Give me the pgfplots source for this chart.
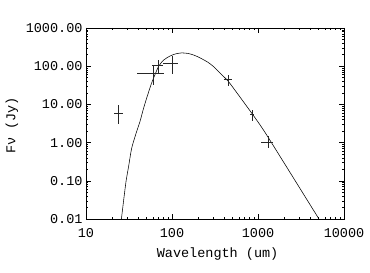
\documentclass[border=0pt]{standalone}
\usepackage{fontspec}
\setmainfont{Liberation Mono}
\usepackage{pgfplots}
\pgfplotsset{compat=1.18}
\usepackage{pgfplotstable}

\pgfplotstableread{
x y xm xp ym yp
24 6.0 2.8 2.7 2.94 3.8
60 64.7 21 20 31.8 41.3
70 108 10.7 9.3 44 40
100 122 20.7 18 59 60
450 44.5 45 44 14.9 15.8
850 5.4 43 55 1.8 1.9
1300 1.05 216 206 0.31 0.40
}\datatable

\pgfplotstableread{
x y
25.8 0.01
27.5 0.033
29.2 0.096
31.5 0.26
34 0.72
38.8 1.95
42.5 3.6
46.4 7.5
50.8 14.7
58 36.5
70 100
81 148
95 185
110 210
130 223
155 215
180 195
212 165
260 128
302 99
370 63
452 40
600 17
845 5.9
1153 2.17
2000 0.30
5115 0.01
}\curvetable

\begin{document}
\begin{tikzpicture}
\begin{loglogaxis}[name=ax, scale only axis, width=258bp, height=191bp,
  xmin=10, xmax=10000, ymin=0.01, ymax=1000,
  xtick={10,100,1000,10000}, xticklabels={10,100,1000,10000},
  ytick={0.01,0.1,1,10,100,1000},
  yticklabels={0.01,0.10,1.00,10.00,100.00,1000.00},
  tick align=inside, major tick length=5bp, minor tick length=2.5bp,
  tick style={black, line width=0.45bp},
  axis line style={line width=0.6bp},
  font=\fontsize{13.5bp}{16bp}\selectfont,
  xticklabel style={yshift=-6bp},
  xlabel={Wavelength (um)},
  xlabel style={at={(axis description cs:0.51,0)}, anchor=north, yshift=-25bp},
  ylabel={Fν (Jy)},
  ylabel style={at={(axis description cs:-0.287,0.49)}, anchor=center},
  clip=true,
]
\addplot[black, line width=0.55bp, smooth, tension=0.4, mark=none] table[x=x,y=y]{\curvetable};
\addplot[draw=none, mark=none, error bars/.cd, x dir=both, x explicit, y dir=both, y explicit,
  error mark=none, error bar style={draw=black!85, line width=0.4bp, solid}]
  table[x=x, y=y, x error plus=xp, x error minus=xm, y error plus=yp, y error minus=ym]{\datatable};
\end{loglogaxis}
\pgfresetboundingbox
\path ([xshift=-86bp,yshift=-54bp]ax.south west) rectangle ([xshift=26bp,yshift=28bp]ax.north east);
\end{tikzpicture}
\end{document}
